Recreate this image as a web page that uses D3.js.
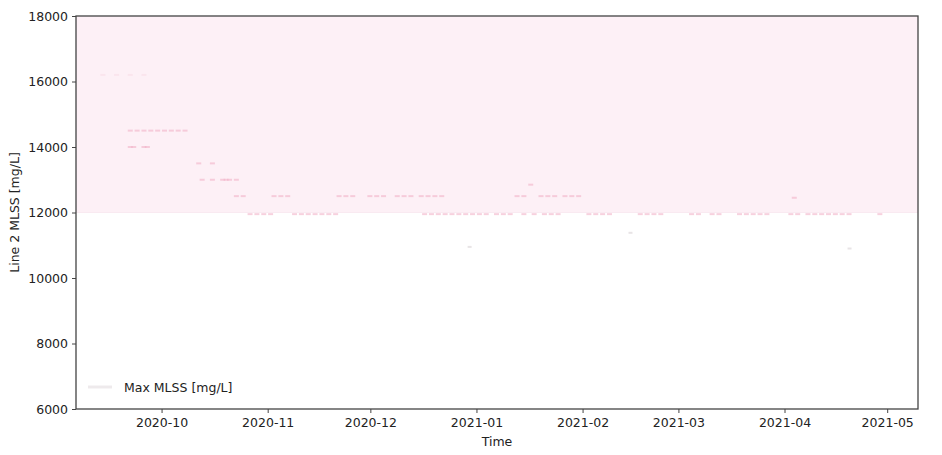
<!DOCTYPE html>
<html>
<head>
<meta charset="utf-8">
<script src="https://cdn.jsdelivr.net/npm/d3@7"></script>
<style>
  html, body { margin: 0; padding: 0; background: #ffffff; }
  svg { display: block; font-family: "DejaVu Sans", sans-serif; }
</style>
</head>
<body>
<svg id="chart" width="942" height="455"></svg>
<script>
// ---- data ----
const xDomain = ["2020-09-06", "2021-05-10"];
const yDomain = [6000, 18000];
const yTicks = [6000, 8000, 10000, 12000, 14000, 16000, 18000];
const xTickDates = ["2020-10-01", "2020-11-01", "2020-12-01", "2021-01-01", "2021-02-01", "2021-03-01", "2021-04-01", "2021-05-01"];
const xTickLabels = ["2020-10", "2020-11", "2020-12", "2021-01", "2021-02", "2021-03", "2021-04", "2021-05"];
const maxMlss = 12000;
const bandTop = 18000;
const seriesName = "Max MLSS [mg/L]";

// faint measured points (date, value)
const sampleDates = [
  "2020-09-14","2020-09-18","2020-09-22","2020-09-26",
  "2020-09-22","2020-09-24","2020-09-26","2020-09-28","2020-09-30","2020-10-02","2020-10-04","2020-10-06","2020-10-08",
  "2020-09-22","2020-09-23","2020-09-26","2020-09-27",
  "2020-10-12","2020-10-16",
  "2020-10-13","2020-10-16","2020-10-19","2020-10-20","2020-10-21","2020-10-23",
  "2020-10-23","2020-10-25","2020-11-03","2020-11-05","2020-11-07","2020-11-22","2020-11-24","2020-11-26",
  "2020-12-01","2020-12-03","2020-12-05","2020-12-09","2020-12-11","2020-12-13","2020-12-16","2020-12-18","2020-12-20","2020-12-22",
  "2021-01-13","2021-01-15","2021-01-20","2021-01-22","2021-01-24","2021-01-27","2021-01-29","2021-01-31","2021-04-04",
  "2021-01-17",
  "2020-10-27","2020-10-29","2020-10-31","2020-11-02","2020-11-09","2020-11-11","2020-11-13","2020-11-15","2020-11-17","2020-11-19","2020-11-21",
  "2020-12-17","2020-12-19","2020-12-21","2020-12-23","2020-12-25","2020-12-27","2020-12-29","2020-12-31","2021-01-02","2021-01-04",
  "2021-01-07","2021-01-09","2021-01-11","2021-01-15","2021-01-18","2021-01-21","2021-01-23","2021-01-25",
  "2021-02-03","2021-02-05","2021-02-07","2021-02-09","2021-02-18","2021-02-20","2021-02-22","2021-02-24",
  "2021-03-05","2021-03-07","2021-03-11","2021-03-13","2021-03-19","2021-03-21","2021-03-23","2021-03-25","2021-03-27",
  "2021-04-03","2021-04-05","2021-04-08","2021-04-10","2021-04-12","2021-04-14","2021-04-16","2021-04-18","2021-04-20","2021-04-29"
];
const sampleValues = [
  16200,16200,16200,16200,
  14500,14500,14500,14500,14500,14500,14500,14500,14500,
  14000,14000,14000,14000,
  13500,13500,
  13000,13000,13000,13000,13000,13000,
  12500,12500,12500,12500,12500,12500,12500,12500,
  12500,12500,12500,12500,12500,12500,12500,12500,12500,12500,
  12500,12500,12500,12500,12500,12500,12500,12500,12450,
  12850,
  11950,11950,11950,11950,11950,11950,11950,11950,11950,11950,11950,
  11950,11950,11950,11950,11950,11950,11950,11950,11950,11950,
  11950,11950,11950,11950,11950,11950,11950,11950,
  11950,11950,11950,11950,11950,11950,11950,11950,
  11950,11950,11950,11950,11950,11950,11950,11950,11950,
  11950,11950,11950,11950,11950,11950,11950,11950,11950,11950
];
// very faint low readings
const lowDates = ["2020-12-30", "2021-02-15", "2021-04-20"];
const lowValues = [10950, 11380, 10900];

// ---- layout ----
const margin = { left: 76, right: 24, top: 16, bottom: 46 };
const W = 942, H = 455;
const pw = W - margin.left - margin.right;
const ph = H - margin.top - margin.bottom;
const parse = d3.timeParse("%Y-%m-%d");

const svg = d3.select("#chart");
const g = svg.append("g").attr("transform", `translate(${margin.left},${margin.top})`);

const x = d3.scaleTime().domain(xDomain.map(parse)).range([0, pw]);
const y = d3.scaleLinear().domain(yDomain).range([ph, 0]);

// band above Max MLSS
g.append("rect")
  .attr("x", 0).attr("width", pw)
  .attr("y", y(bandTop)).attr("height", y(maxMlss) - y(bandTop))
  .attr("fill", "#fdf0f6");

// Max MLSS line
g.append("line")
  .attr("x1", 0).attr("x2", pw)
  .attr("y1", y(maxMlss)).attr("y2", y(maxMlss))
  .attr("stroke", "#f9eaf1").attr("stroke-width", 1);

// faint sample marks
g.selectAll("rect.pt").data(sampleDates.map((d, i) => [parse(d), sampleValues[i]]))
  .join("rect").attr("class", "pt")
  .attr("x", d => x(d[0]) - 3).attr("width", 5)
  .attr("y", d => y(d[1]) - 1).attr("height", 2)
  .attr("fill", d => d[1] > 16000 ? "#f8dde7" : "#f2b3c8")
  .attr("opacity", 0.6);

g.selectAll("rect.low").data(lowDates.map((d, i) => [parse(d), lowValues[i]]))
  .join("rect").attr("class", "low")
  .attr("x", d => x(d[0]) - 2).attr("width", 4)
  .attr("y", d => y(d[1]) - 1).attr("height", 2)
  .attr("fill", "#e8e4e6");

// axes
const yAxis = d3.axisLeft(y).tickValues(yTicks).tickSize(4).tickPadding(4).tickFormat(d3.format("d"));
const xAxis = d3.axisBottom(x).tickValues(xTickDates.map(parse)).tickSize(4).tickPadding(5)
  .tickFormat((d, i) => xTickLabels[i]);

const gy = g.append("g").call(yAxis);
const gx = g.append("g").attr("transform", `translate(0,${ph})`).call(xAxis);
[gx, gy].forEach(a => {
  a.selectAll("text").attr("font-size", "12.5px").attr("fill", "#222").attr("font-family", "DejaVu Sans, sans-serif");
  a.selectAll("line").attr("stroke", "#444");
  a.select(".domain").remove();
});

// frame
g.append("rect").attr("x", 0).attr("y", 0).attr("width", pw).attr("height", ph)
  .attr("fill", "none").attr("stroke", "#444").attr("stroke-width", 1.3);

// axis labels
svg.append("text").attr("x", margin.left + pw / 2).attr("y", 446)
  .attr("text-anchor", "middle").attr("font-size", "12.5px").attr("fill", "#222").text("Time");
svg.append("text").attr("transform", `translate(19,${margin.top + ph / 2}) rotate(-90)`)
  .attr("text-anchor", "middle").attr("font-size", "12.5px").attr("fill", "#222").text("Line 2 MLSS [mg/L]");

// legend
const lg = g.append("g").attr("transform", `translate(12,${ph - 22})`);
lg.append("line").attr("x1", 0).attr("x2", 24).attr("y1", 0).attr("y2", 0)
  .attr("stroke", "#eeeaec").attr("stroke-width", 3);
lg.append("text").attr("x", 36).attr("y", 4.5).attr("font-size", "12.5px").attr("fill", "#222").text(seriesName);
</script>
</body>
</html>
